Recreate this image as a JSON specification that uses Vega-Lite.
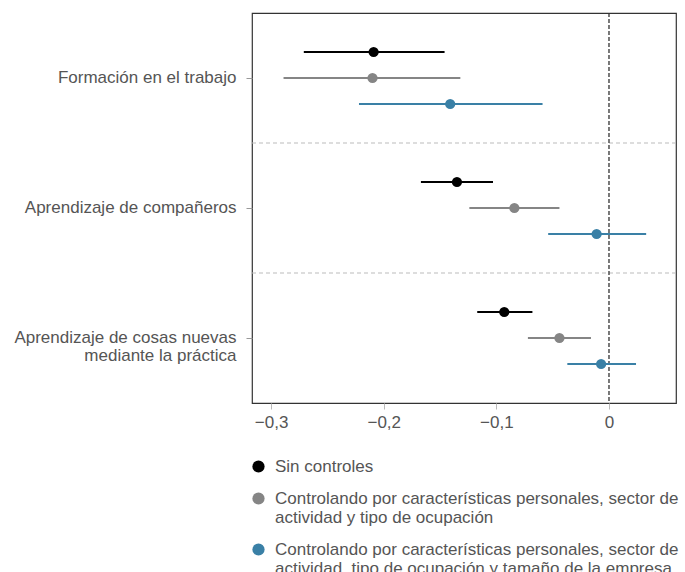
{
  "$schema": "https://vega.github.io/schema/vega-lite/v6.json",
  "autosize": {"type": "none"},
  "padding": {"left": 252, "top": 13, "right": 9, "bottom": 169},
  "width": 424,
  "height": 390,
  "background": "white",
  "config": {
    "view": {"stroke": "#333", "strokeWidth": 1.2},
    "font": "Liberation Sans"
  },
  "datasets": {
    "est": [
      {"cat": "Formación en el trabajo", "serie": "Sin controles", "est": -0.209, "lo": -0.271, "hi": -0.146},
      {"cat": "Formación en el trabajo", "serie": "Controlando por características personales, sector de actividad y tipo de ocupación", "est": -0.210, "lo": -0.289, "hi": -0.132},
      {"cat": "Formación en el trabajo", "serie": "Controlando por características personales, sector de actividad, tipo de ocupación y tamaño de la empresa", "est": -0.141, "lo": -0.222, "hi": -0.059},
      {"cat": "Aprendizaje de compañeros", "serie": "Sin controles", "est": -0.135, "lo": -0.167, "hi": -0.103},
      {"cat": "Aprendizaje de compañeros", "serie": "Controlando por características personales, sector de actividad y tipo de ocupación", "est": -0.084, "lo": -0.124, "hi": -0.044},
      {"cat": "Aprendizaje de compañeros", "serie": "Controlando por características personales, sector de actividad, tipo de ocupación y tamaño de la empresa", "est": -0.011, "lo": -0.054, "hi": 0.033},
      {"cat": "Aprendizaje de cosas nuevas mediante la práctica", "serie": "Sin controles", "est": -0.093, "lo": -0.117, "hi": -0.068},
      {"cat": "Aprendizaje de cosas nuevas mediante la práctica", "serie": "Controlando por características personales, sector de actividad y tipo de ocupación", "est": -0.044, "lo": -0.072, "hi": -0.016},
      {"cat": "Aprendizaje de cosas nuevas mediante la práctica", "serie": "Controlando por características personales, sector de actividad, tipo de ocupación y tamaño de la empresa", "est": -0.007, "lo": -0.037, "hi": 0.024}
    ],
    "sep": [
      {"cat": "Aprendizaje de compañeros"},
      {"cat": "Aprendizaje de cosas nuevas mediante la práctica"}
    ],
    "zero": [{"x": 0}]
  },
  "layer": [
    {
      "data": {"name": "sep"},
      "mark": {"type": "rule", "color": "#bbb", "strokeDash": [4, 3], "strokeWidth": 1},
      "encoding": {
        "y": {"field": "cat", "type": "nominal", "bandPosition": 0, "sort": ["Formación en el trabajo", "Aprendizaje de compañeros", "Aprendizaje de cosas nuevas mediante la práctica"]}
      }
    },
    {
      "data": {"name": "zero"},
      "mark": {"type": "rule", "color": "#333", "strokeDash": [4, 2], "strokeWidth": 1.3},
      "encoding": {
        "x": {"field": "x", "type": "quantitative"}
      }
    },
    {
      "data": {"name": "est"},
      "mark": {"type": "rule", "strokeWidth": 2},
      "encoding": {
        "x": {"field": "lo", "type": "quantitative"},
        "x2": {"field": "hi"},
        "y": {"field": "cat", "type": "nominal", "sort": ["Formación en el trabajo", "Aprendizaje de compañeros", "Aprendizaje de cosas nuevas mediante la práctica"]},
        "yOffset": {"field": "serie", "type": "nominal", "sort": ["Sin controles", "Controlando por características personales, sector de actividad y tipo de ocupación", "Controlando por características personales, sector de actividad, tipo de ocupación y tamaño de la empresa"], "scale": {"paddingOuter": 1, "paddingInner": 0}},
        "color": {"field": "serie", "type": "nominal"}
      }
    },
    {
      "data": {"name": "est"},
      "mark": {"type": "point", "filled": true, "opacity": 1, "size": 105, "shape": "circle"},
      "encoding": {
        "x": {
          "field": "est", "type": "quantitative",
          "scale": {"domain": [-0.317, 0.0595], "nice": false, "zero": false},
          "axis": {
            "title": null,
            "values": [-0.3, -0.2, -0.1, 0],
            "labelExpr": "datum.value == 0 ? '0' : replace(format(datum.value, '.1f'), '.', ',')",
            "domain": false,
            "grid": false,
            "tickColor": "#bbb",
            "tickSize": 6,
            "labelFontSize": 17,
            "labelColor": "#555",
            "labelPadding": 5
          }
        },
        "y": {
          "field": "cat", "type": "nominal",
          "sort": ["Formación en el trabajo", "Aprendizaje de compañeros", "Aprendizaje de cosas nuevas mediante la práctica"],
          "scale": {"paddingInner": 0, "paddingOuter": 0},
          "axis": {
            "title": null,
            "domain": false,
            "grid": false,
            "tickColor": "#999",
            "tickSize": 6,
            "labelFontSize": 17,
            "labelColor": "#555",
            "labelPadding": 10,
            "labelLimit": 300,
            "labelLineHeight": 18,
            "labelExpr": "datum.value == 'Aprendizaje de cosas nuevas mediante la práctica' ? ['Aprendizaje de cosas nuevas', 'mediante la práctica'] : datum.value"
          }
        },
        "yOffset": {"field": "serie", "type": "nominal", "sort": ["Sin controles", "Controlando por características personales, sector de actividad y tipo de ocupación", "Controlando por características personales, sector de actividad, tipo de ocupación y tamaño de la empresa"], "scale": {"paddingOuter": 1, "paddingInner": 0}},
        "color": {
          "field": "serie", "type": "nominal",
          "scale": {
            "domain": [
              "Sin controles",
              "Controlando por características personales, sector de actividad y tipo de ocupación",
              "Controlando por características personales, sector de actividad, tipo de ocupación y tamaño de la empresa"
            ],
            "range": ["#000000", "#858585", "#3a80a6"]
          },
          "legend": {
            "title": null,
            "orient": "none",
            "legendX": -2,
            "legendY": 445,
            "direction": "vertical",
            "symbolType": "circle",
            "symbolSize": 150,
            "symbolStrokeWidth": 0,
            "symbolOpacity": 1,
            "labelFontSize": 17,
            "labelColor": "#555",
            "labelLimit": 500,
            "labelOffset": 8,
            "rowPadding": 14,
            "labelLineHeight": 18,
            "padding": 0,
            "labelExpr": "datum.value == 'Sin controles' ? datum.value : (indexof(datum.value, 'tamaño') > 0 ? ['Controlando por características personales, sector de', 'actividad, tipo de ocupación y tamaño de la empresa'] : ['Controlando por características personales, sector de', 'actividad y tipo de ocupación'])"
          }
        }
      }
    }
  ]
}
